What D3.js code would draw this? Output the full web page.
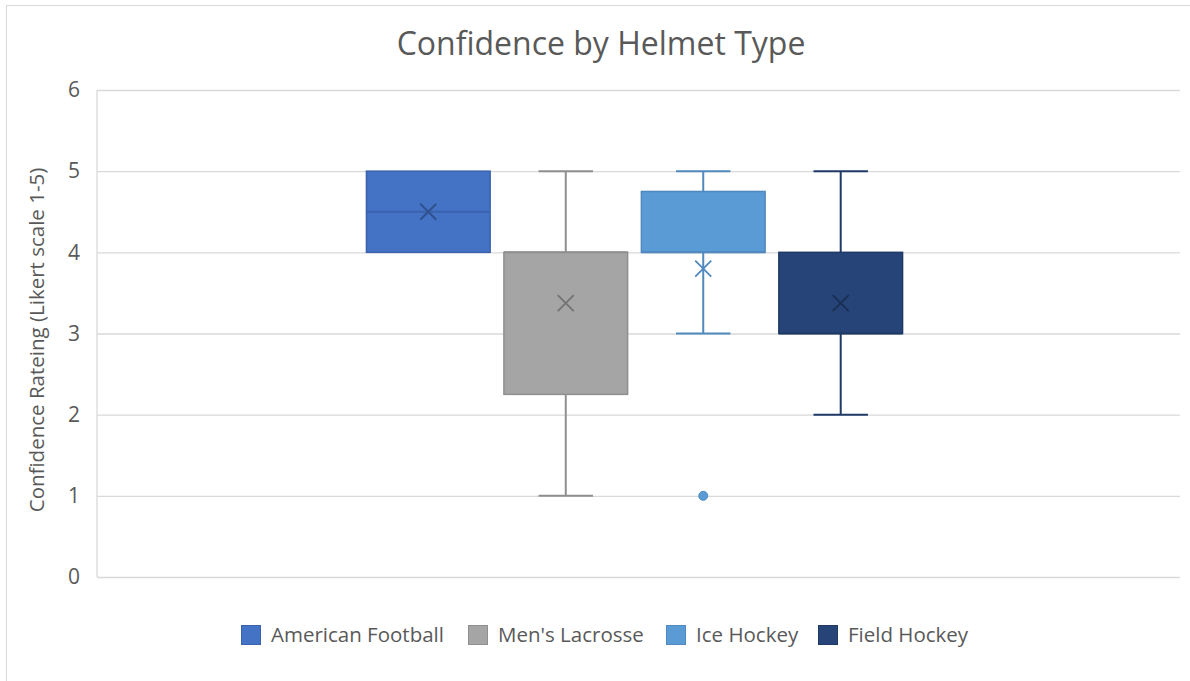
<!DOCTYPE html>
<html>
<head>
<meta charset="utf-8">
<script src="https://cdn.jsdelivr.net/npm/d3@7"></script>
<style>
  body { margin: 0; background: #fff; }
  text { font-family: "Open Sans", sans-serif; fill: #595959; }
</style>
</head>
<body>
<svg width="1190" height="681"></svg>
<script>
const svg = d3.select('svg')
const width = +svg.attr('width')
const height = +svg.attr('height')

// data
const series = ['American Football', "Men's Lacrosse", 'Ice Hockey', 'Field Hockey']
const mins = [4, 1, 3, 2]
const q1s = [4, 2.25, 4, 3]
const medians = [4.5, 4, 4, 3]
const q3s = [5, 4, 4.75, 4]
const maxs = [5, 5, 5, 5]
const means = [4.5, 3.375, 3.8, 3.375]
const outliers = [[], [], [1], []]
const yTicks = [0, 1, 2, 3, 4, 5, 6]

const fills = ['#4472C4', '#A5A5A5', '#5B9BD5', '#264478']
const strokes = ['#3A63AE', '#8F8F8F', '#4F89BE', '#1F3A66']

const margin = {top: 90, right: 10, bottom: 104, left: 97}
const innerWidth = width - margin.left - margin.right
const innerHeight = height - margin.top - margin.bottom

// chart frame
svg.append('rect')
  .attr('x', 6.5).attr('y', 5.5)
  .attr('width', 1200).attr('height', 700)
  .attr('fill', '#fff').attr('stroke', '#d9d9d9')

svg.append('text')
  .attr('x', 601).attr('y', 55)
  .attr('text-anchor', 'middle')
  .style('font-size', '32px')
  .text('Confidence by Helmet Type')

const g = svg.append('g')
  .attr('transform', `translate(${margin.left}, ${margin.top})`)

const yScale = d3.scaleLinear().domain([0, 6]).range([innerHeight, 0])

const xScale = d3.scaleBand().domain(['']).range([0, innerWidth]).paddingInner(0).paddingOuter(0.51)
const xInner = d3.scaleBand().domain(series)
  .range([xScale('') - 4, xScale('') + xScale.bandwidth() - 4])
  .paddingInner(0.1)

// gridlines
const yAxis = d3.axisLeft(yScale).tickValues(yTicks).tickFormat(d3.format('d'))
  .tickSize(-innerWidth).tickPadding(17)
const ya = g.append('g').call(yAxis)
ya.select('.domain').remove()
ya.selectAll('.tick line').attr('stroke', '#d9d9d9').attr('stroke-width', 1.3)
ya.selectAll('.tick text').style('font-size', '21px').attr('fill', '#595959')

g.append('line')
  .attr('x1', 0).attr('x2', 0)
  .attr('y1', 0).attr('y2', innerHeight)
  .attr('stroke', '#d9d9d9').attr('stroke-width', 1.3)

svg.append('text')
  .attr('transform', `translate(44, 340) rotate(-90)`)
  .attr('text-anchor', 'middle')
  .style('font-size', '20.5px')
  .text('Confidence Rateing (Likert scale 1-5)')

const boxes = g.selectAll('.box').data(series)
  .enter().append('g').attr('class', 'box')

boxes.each(function (name, i) {
  const b = d3.select(this)
  const x0 = xInner(name)
  const w = xInner.bandwidth()
  const cx = x0 + w / 2
  const cap = w * 0.22

  // whiskers
  if (maxs[i] > q3s[i]) {
    b.append('line').attr('x1', cx).attr('x2', cx)
      .attr('y1', yScale(maxs[i])).attr('y2', yScale(q3s[i]))
      .attr('stroke', strokes[i]).attr('stroke-width', 2)
    b.append('line').attr('x1', cx - cap).attr('x2', cx + cap)
      .attr('y1', yScale(maxs[i])).attr('y2', yScale(maxs[i]))
      .attr('stroke', strokes[i]).attr('stroke-width', 2)
  }
  if (mins[i] < q1s[i]) {
    b.append('line').attr('x1', cx).attr('x2', cx)
      .attr('y1', yScale(q1s[i])).attr('y2', yScale(mins[i]))
      .attr('stroke', strokes[i]).attr('stroke-width', 2)
    b.append('line').attr('x1', cx - cap).attr('x2', cx + cap)
      .attr('y1', yScale(mins[i])).attr('y2', yScale(mins[i]))
      .attr('stroke', strokes[i]).attr('stroke-width', 2)
  }

  b.append('rect')
    .attr('x', x0).attr('y', yScale(q3s[i]))
    .attr('width', w).attr('height', yScale(q1s[i]) - yScale(q3s[i]))
    .attr('fill', fills[i]).attr('stroke', strokes[i]).attr('stroke-width', 1.5)

  b.append('line')
    .attr('x1', x0).attr('x2', x0 + w)
    .attr('y1', yScale(medians[i])).attr('y2', yScale(medians[i]))
    .attr('stroke', strokes[i]).attr('stroke-width', 2)

  // mean marker
  const my = yScale(means[i])
  const s = 8
  b.append('path')
    .attr('d', `M${cx - s},${my - s}L${cx + s},${my + s}M${cx - s},${my + s}L${cx + s},${my - s}`)
    .attr('stroke', i === 2 ? strokes[i] : d3.color(strokes[i]).darker(0.6))
    .attr('stroke-width', 1.8).attr('fill', 'none')

  outliers[i].forEach(v => {
    b.append('circle').attr('cx', cx).attr('cy', yScale(v)).attr('r', 4.5)
      .attr('fill', fills[i]).attr('stroke', strokes[i])
  })
})

// legend
const legendX = [241, 468, 666, 818]
const legend = svg.append('g').selectAll('g').data(series)
  .enter().append('g')
  .attr('transform', (d, i) => `translate(${legendX[i]}, 625)`)
legend.append('rect')
  .attr('x', 0.5).attr('y', 0.5).attr('width', 19).attr('height', 19)
  .attr('fill', (d, i) => fills[i]).attr('stroke', (d, i) => strokes[i])
legend.append('text')
  .attr('x', 30).attr('y', 17)
  .style('font-size', '20.5px')
  .text(d => d)
</script>
</body>
</html>
